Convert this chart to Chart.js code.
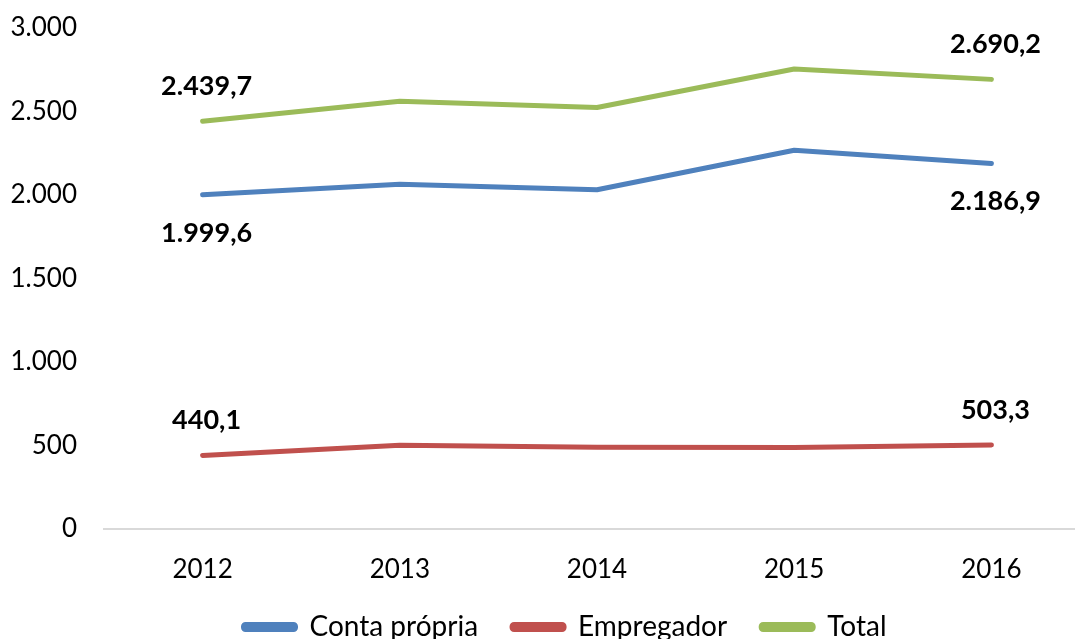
<!DOCTYPE html>
<html>
<head>
<meta charset="utf-8">
<script src="https://cdn.jsdelivr.net/npm/chart.js@4"></script>
<style>
  html, body { margin: 0; padding: 0; background: #fff; overflow: hidden; }
  #wrap { width: 1075px; height: 639px; overflow: hidden; position: relative; }
  #box { width: 1100px; height: 666px; position: absolute; left: 0; top: -15px; }
</style>
</head>
<body>
<div id="wrap"><div id="box"><canvas id="chart"></canvas></div></div>
<script>
const years = ['2012', '2013', '2014', '2015', '2016'];
const contaPropria = [1999.6, 2062, 2030, 2266, 2186.9];
const empregador = [440.1, 501, 489, 488, 503.3];
const total = [2439.7, 2560, 2522, 2752, 2690.2];

const yMin = 0;
const yMax = 3000;
const yStep = 500;

// 2.439,7 style numbers
function fmt(v, decimals) {
    const parts = v.toFixed(decimals).split('.');
    parts[0] = parts[0].replace(/\B(?=(\d{3})+(?!\d))/g, '.');
    return parts.length > 1 ? parts[0] + ',' + parts[1] : parts[0];
}

// labels on the first and last point of each line
const endLabels = {
    id: 'endLabels',
    afterDatasetsDraw(chart) {
        const ctx = chart.ctx;
        ctx.save();
        ctx.font = 'bold 27px Lato';
        ctx.fillStyle = '#000';
        ctx.textAlign = 'center';
        ctx.textBaseline = 'middle';
        chart.data.datasets.forEach((ds, i) => {
            const meta = chart.getDatasetMeta(i);
            [0, ds.data.length - 1].forEach((idx) => {
                const pt = meta.data[idx];
                const dy = ds.labelBelow ? 38 : -35;
                ctx.fillText(fmt(ds.data[idx], 1), pt.x + 4, pt.y + dy);
            });
        });
        ctx.restore();
    }
};

// the original legend sits a bit right of the canvas centre
const legendShift = {
    id: 'legendShift',
    afterLayout(chart) {
        const lg = chart.legend;
        if (!lg) return;
        lg.left += 20;
        lg.right += 20;
    }
};

const ctx = document.getElementById('chart').getContext('2d');
new Chart(ctx, {
    type: 'line',
    data: {
        labels: years,
        datasets: [
            { label: 'Conta própria', data: contaPropria, borderColor: '#4F81BD', backgroundColor: '#4F81BD', labelBelow: true },
            { label: 'Empregador', data: empregador, borderColor: '#C0504D', backgroundColor: '#C0504D' },
            { label: 'Total', data: total, borderColor: '#9BBB59', backgroundColor: '#9BBB59' }
        ]
    },
    options: {
        responsive: true,
        maintainAspectRatio: false,
        animation: false,
        elements: {
            line: { borderWidth: 5, tension: 0, borderCapStyle: 'round', borderJoinStyle: 'round' },
            point: { radius: 0, hoverRadius: 0 }
        },
        layout: { padding: { top: 1, left: 0, right: 10, bottom: 0 } },
        scales: {
            x: {
                offset: true,
                grid: { display: false, drawTicks: false },
                border: { display: true, color: '#d9d9d9', width: 2 },
                ticks: { color: '#000', font: { family: 'Lato', size: 26 }, padding: 25 },
                afterFit(scale) { scale.height = 50; }
            },
            y: {
                min: yMin,
                max: yMax,
                grid: { display: false, drawTicks: false },
                border: { display: false },
                ticks: {
                    stepSize: yStep,
                    color: '#000',
                    font: { family: 'Lato', size: 26 },
                    padding: 27,
                    callback: (v) => fmt(v, 0)
                },
                afterFit(scale) { scale.width = 104; }
            }
        },
        plugins: {
            legend: {
                position: 'bottom',
                labels: {
                    color: '#000',
                    font: { family: 'Lato', size: 28 },
                    boxWidth: 52,
                    boxHeight: 5,
                    padding: 34,
                    useBorderRadius: true,
                    borderRadius: 2
                }
            },
            tooltip: { enabled: false }
        }
    },
    plugins: [endLabels, legendShift]
});
</script>
</body>
</html>
